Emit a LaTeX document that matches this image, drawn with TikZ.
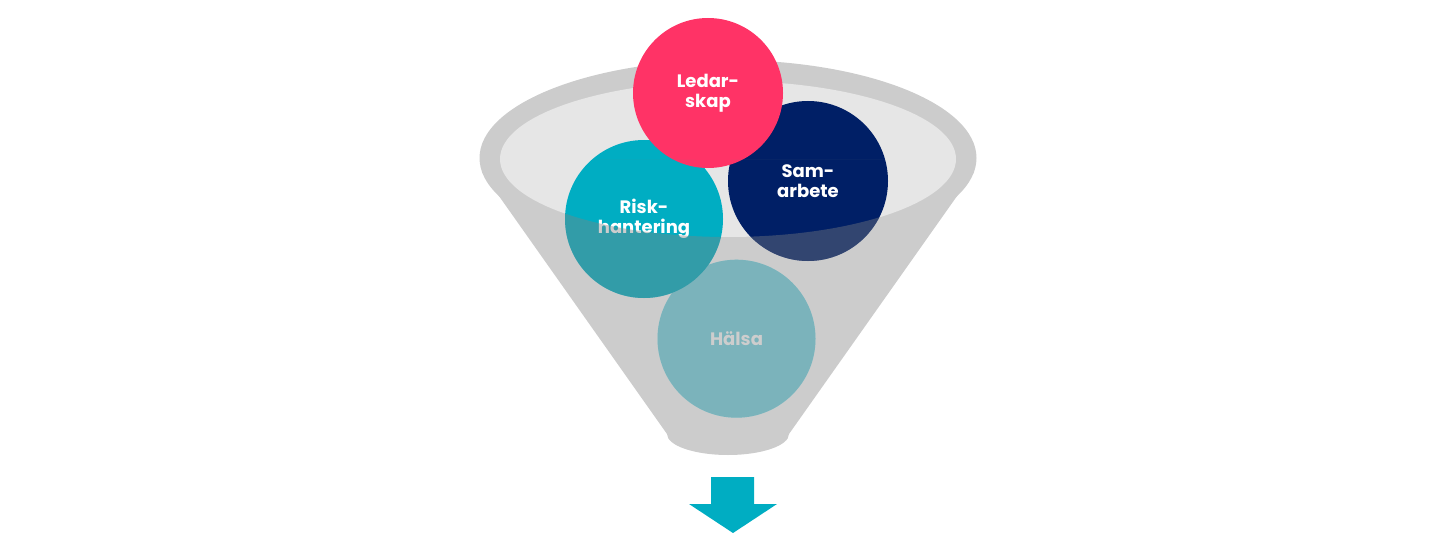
\documentclass[tikz,border=0pt]{standalone}
\usepackage{fontspec}
\setmainfont{Poppins}
\definecolor{rimgray}{RGB}{204,204,204}
\definecolor{innergray}{RGB}{230,230,230}
\definecolor{pinkc}{RGB}{255,51,102}
\definecolor{cyanc}{RGB}{0,173,194}
\definecolor{navyc}{RGB}{0,31,102}
\definecolor{halsac}{RGB}{119,211,224}
\definecolor{ovc}{RGB}{130,130,130}
\begin{document}
\begin{tikzpicture}[x=1pt,y=-1pt,
  ball/.style={circle,inner sep=0pt,text=white,align=center,
    font=\fontsize{18}{20}\selectfont\bfseries}]
\useasboundingbox (0,0) rectangle (1440,559);
% funnel body
\fill[rimgray] (728,158) ellipse [x radius=248.5pt, y radius=98pt];
\fill[rimgray] (482,172) -- (667,434) -- (789,434) -- (974,172) -- cycle;
\fill[rimgray] (728,434) ellipse [x radius=61pt, y radius=21pt];
\fill[innergray] (728,159) ellipse [x radius=228pt, y radius=78pt];
% balls
\node[ball,fill=halsac,minimum size=158pt] (halsa) at (736.5,338.7) {Hälsa};
\node[ball,fill=navyc,minimum size=160pt] (sam) at (808,181) {Sam-\\arbete};
\node[ball,fill=cyanc,minimum size=158pt] (risk) at (644,219) {Risk-\\hantering};
\node[ball,fill=pinkc,minimum size=150pt] (ledar) at (708,93) {Ledar-\\skap};
% funnel front shading over the balls
\begin{scope}
  \clip (halsa.center) circle (79pt) (sam.center) circle (80pt) (risk.center) circle (79pt);
  \clip (400,159) rectangle (1050,480);
  \fill[ovc,fill opacity=0.393,even odd rule] (400,159) rectangle (1050,480)
    (728,159) ellipse [x radius=228pt, y radius=78pt];
\end{scope}
% arrow
\fill[cyanc] (711,477) -- (754,477) -- (754,504) -- (777,504) -- (733,533) -- (689,504) -- (711,504) -- cycle;
\end{tikzpicture}
\end{document}
